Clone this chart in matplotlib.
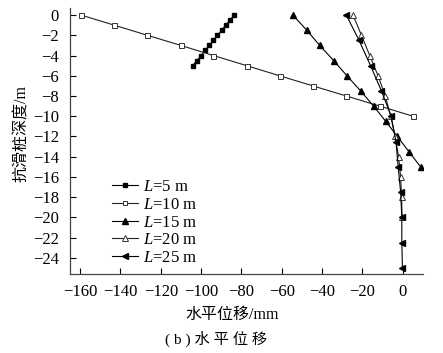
import matplotlib
matplotlib.use("Agg")
import matplotlib.pyplot as plt

plt.rcParams['font.family'] = ['Liberation Serif', 'Noto Sans CJK SC']
plt.rcParams['mathtext.fontset'] = 'custom'
plt.rcParams['mathtext.it'] = 'Liberation Serif:italic'
plt.rcParams['mathtext.rm'] = 'Liberation Serif'
plt.rcParams['axes.unicode_minus'] = True

# Data: horizontal displacement (mm) vs depth (m)
depth_5 = [0, -0.5, -1, -1.5, -2, -2.5, -3, -3.5, -4, -4.5, -5]
disp_5 = [-83.5, -85.8, -87.8, -89.8, -91.9, -93.9, -95.9, -98.1, -99.9, -102.1, -104.2]

depth_10 = [0, -1, -2, -3, -4, -5, -6, -7, -8, -9, -10]
disp_10 = [-159.5, -143, -126.6, -110, -93.9, -77.4, -61.1, -44.6, -28.0, -11.4, 5.0]

depth_15 = [0, -1.5, -3, -4.5, -6, -7.5, -9, -10.5, -12, -13.5, -15]
disp_15 = [-54.5, -47.6, -41.2, -34.3, -27.7, -20.9, -14.5, -8.5, -2.7, 3.0, 8.8]

depth_20 = [0, -2, -4, -6, -8, -10, -12, -14, -16, -18, -20]
disp_20 = [-24.7, -20.5, -16.4, -12.3, -8.7, -6.0, -3.8, -2.1, -1.1, -0.6, -0.4]

depth_25 = [0, -2.5, -5, -7.5, -10, -12.5, -15, -17.5, -20, -22.5, -25]
disp_25 = [-28.0, -21.7, -16.0, -10.6, -5.8, -3.4, -2.3, -1.1, -0.5, -0.5, -0.2]

labels = ['$L$=5 m', '$L$=10 m', '$L$=15 m', '$L$=20 m', '$L$=25 m']
xticks = [-160, -140, -120, -100, -80, -60, -40, -20, 0]
yticks = [0, -2, -4, -6, -8, -10, -12, -14, -16, -18, -20, -22, -24]

fig = plt.figure(figsize=(4.43, 3.53), dpi=100)
ax = fig.add_axes([70/443, 1-274/353, 353/443, 266/353])

lw = 0.8
ax.plot(disp_5, depth_5, '-', color='black', lw=lw, marker='s', ms=3.4,
        mfc='black', mec='black', label=labels[0])
ax.plot(disp_10, depth_10, '-', color='#222222', lw=lw, marker='s', ms=3.6,
        mfc='white', mec='#333333', mew=0.7, label=labels[1])
ax.plot(disp_15, depth_15, '-', color='black', lw=lw, marker='^', ms=4.3,
        mfc='black', mec='black', label=labels[2])
ax.plot(disp_20, depth_20, '-', color='#222222', lw=lw, marker='^', ms=4.3,
        mfc='white', mec='#333333', mew=0.7, label=labels[3])
ax.plot(disp_25, depth_25, '-', color='black', lw=lw, marker='<', ms=4.3,
        mfc='black', mec='black', label=labels[4])

ax.set_xlim(-165, 10)
ax.set_ylim(-25.6, 0.7)
ax.set_xticks(xticks)
ax.set_yticks(yticks)
ax.tick_params(direction='in', labelsize=12, length=4, width=0.8, pad=7)
ax.tick_params(axis='y', pad=8)
for s in ['top', 'right']:
    ax.spines[s].set_visible(False)
for s in ['left', 'bottom']:
    ax.spines[s].set_linewidth(0.9)
    ax.spines[s].set_color('#444444')

ax.legend(loc='upper left', bbox_to_anchor=(0.085, 0.40), frameon=False,
          fontsize=12, handlelength=1.6, handletextpad=0.25,
          labelspacing=0.1, borderpad=0.2, markerscale=0.85)

fig.text(232/443, 1-315/353, '水平位移/mm', ha='center', va='center', fontsize=11.5)
fig.text(216/443, 1-339/353, '( b ) 水 平 位 移', ha='center', va='center', fontsize=11)
fig.text(22/443, 1-133/353, '抗滑桩深度/m', ha='center', va='center',
         rotation=90, fontsize=11.5)

fig.savefig('out.png', dpi=100)
